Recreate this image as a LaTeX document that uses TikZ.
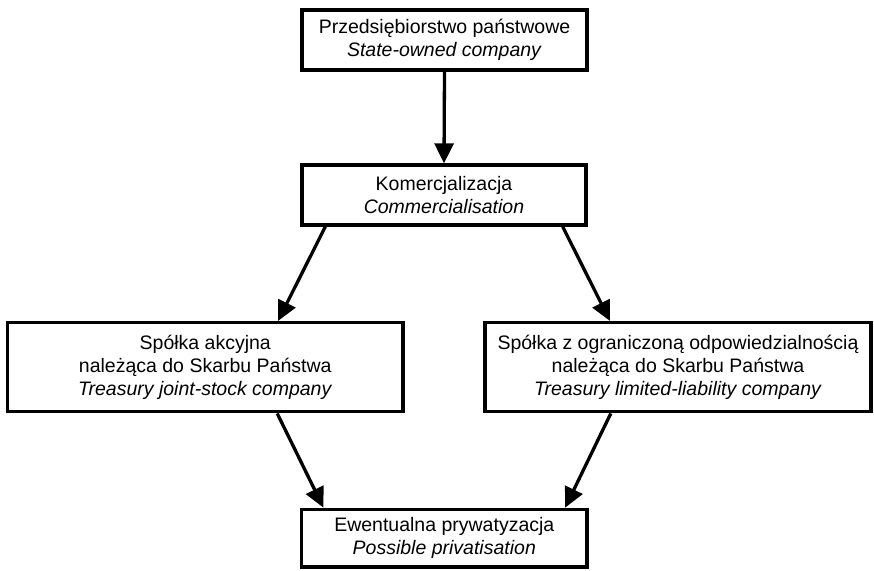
\documentclass[tikz,border=0pt]{standalone}
\usepackage{fontspec}
\setmainfont{Liberation Sans}
\usetikzlibrary{arrows.meta,calc}
\begin{document}
\begin{tikzpicture}[x=1pt,y=-1pt,
  box/.style={draw, line width=3.4pt, align=center, inner sep=0pt,
    font=\fontsize{19.5}{23}\selectfont},
  conn/.style={line width=3.3pt, -{Triangle[length=20pt,width=19pt]}}]
\useasboundingbox (0,0) rectangle (874,570);
\node[box, minimum width=285pt, minimum height=60pt] (a) at (444.5,40)
  {Przedsiębiorstwo państwowe\\\textit{State-owned company}};
\node[box, minimum width=284pt, minimum height=60pt] (b) at (444,195)
  {Komercjalizacja\\\textit{Commercialisation}};
\node[box, minimum width=395.5pt, minimum height=89pt] (c) at (205.25,367.2)
  {Spółka akcyjna\\należąca do Skarbu Państwa\\\textit{Treasury joint-stock company}};
\node[box, minimum width=386pt, minimum height=89pt] (d) at (678,367.2)
  {Spółka z ograniczoną odpowiedzialnością\\należąca do Skarbu Państwa\\\textit{Treasury limited-liability company}};
\node[box, minimum width=285.3pt, minimum height=57.7pt] (e) at (444.3,538.2)
  {Ewentualna prywatyzacja\\\textit{Possible privatisation}};
\coordinate (b1) at ($(b.south west)+(25,0)$);
\coordinate (c1) at ($(c.north east)+(-126.75,0)$);
\coordinate (b2) at ($(b.south east)+(-25,0)$);
\coordinate (d1) at ($(d.north west)+(126.75,0)$);
\coordinate (c2) at ($(c.south east)+(-127.5,0)$);
\coordinate (e1) at ($(e.north west)+(23.5,0)$);
\coordinate (d2) at ($(d.south west)+(127.5,0)$);
\coordinate (e2) at ($(e.north east)+(-23.5,0)$);
\draw[conn] (a.south) -- (b.north);
\draw[conn] (b1) -- (c1);
\draw[conn] (b2) -- (d1);
\draw[conn] (c2) -- (e1);
\draw[conn] (d2) -- (e2);
\end{tikzpicture}
\end{document}
